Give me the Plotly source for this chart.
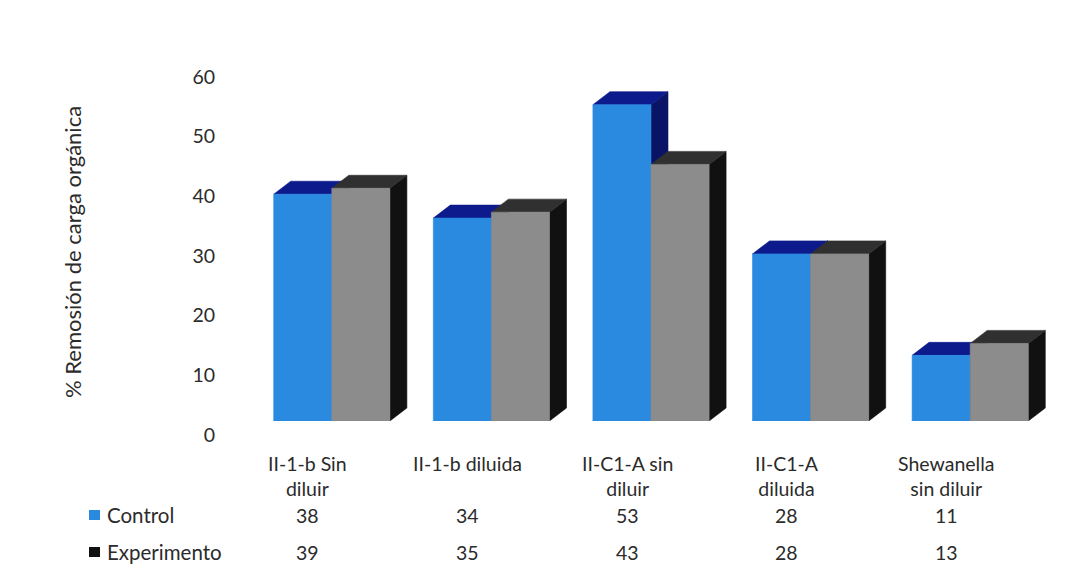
import plotly.graph_objects as go

# ---- data ----
categories = ["II-1-b Sin<br>diluir", "II-1-b diluida", "II-C1-A sin<br>diluir",
              "II-C1-A<br>diluida", "Shewanella<br>sin diluir"]
series_names = ["Control", "Experimento"]
control = [38, 34, 53, 28, 11]
experimento = [39, 35, 43, 28, 13]
y_ticks = [0, 10, 20, 30, 40, 50, 60]
y_title = "% Remosión de carga orgánica"

# ---- layout geometry (pixels) ----
W, H = 1076, 581
ML, MR, MT, MB = 252, 26, 51, 160
PW, PH = W - ML - MR, H - MT - MB
Y_MAX = 62
PLOT_BOTTOM = H - MB

def px_x(p):
    return (p - ML) / PW

def px_y(p):
    return (PLOT_BOTTOM - p) / PH

# 3-D box styling (in axis units)
BAR_W = 0.364                      # width of one front face
DEPTH_X = 17 / (PW / 5.0)          # horizontal depth offset
DEPTH_Y = 13 / (PH / Y_MAX)        # vertical depth offset
TABLE_SHIFT = -0.15                # table columns sit left of the boxes

FONT = "Lato, 'Open Sans', sans-serif"
TXT = "#2b2b2b"
FS = 19.5

styles = {
    "Control": dict(front="#2A8AE0", top="#0C1A8C", side="#0A1466"),
    "Experimento": dict(front="#8C8C8C", top="#303030", side="#111111"),
}


def faces(values, offset):
    """Return polygon paths (front, top, side) for a row of 3-D boxes."""
    fx, fy, tx, ty, sx, sy = [], [], [], [], [], []
    for i, v in enumerate(values):
        x0 = i + offset
        x1 = x0 + BAR_W
        fx += [x0, x1, x1, x0, x0, None]
        fy += [0, 0, v, v, 0, None]
        tx += [x0, x1, x1 + DEPTH_X, x0 + DEPTH_X, x0, None]
        ty += [v, v, v + DEPTH_Y, v + DEPTH_Y, v, None]
        sx += [x1, x1 + DEPTH_X, x1 + DEPTH_X, x1, x1, None]
        sy += [0, DEPTH_Y, v + DEPTH_Y, v, 0, None]
    return (fx, fy), (tx, ty), (sx, sy)


fig = go.Figure()

for name, values, offset in [("Control", control, -BAR_W),
                             ("Experimento", experimento, 0.0)]:
    front, top, side = faces(values, offset)
    st = styles[name]
    for (xs, ys), col in [(side, st["side"]), (top, st["top"]), (front, st["front"])]:
        fig.add_trace(go.Scatter(
            x=xs, y=ys, mode="lines", fill="toself", fillcolor=col,
            line=dict(color=col, width=0.6), hoverinfo="skip",
            showlegend=False, name=name))

annotations = []

# axis title
annotations.append(dict(
    text=y_title, xref="paper", yref="paper", x=px_x(72), y=px_y(252),
    textangle=-90, showarrow=False, font=dict(family=FONT, size=22, color=TXT),
    xanchor="center", yanchor="middle"))

# data table under the chart: category headers and values
for i, cat in enumerate(categories):
    annotations.append(dict(
        text=cat, xref="x", yref="paper", x=i + TABLE_SHIFT, y=px_y(450),
        showarrow=False, xanchor="center", yanchor="top", align="center",
        font=dict(family=FONT, size=FS, color=TXT)))
    for vals, row_y in [(control, 515), (experimento, 552)]:
        annotations.append(dict(
            text=str(vals[i]), xref="x", yref="paper", x=i + TABLE_SHIFT,
            y=px_y(row_y), showarrow=False, xanchor="center", yanchor="middle",
            font=dict(family=FONT, size=FS, color=TXT)))

shapes = []
for name, row_y in zip(series_names, [515, 552]):
    annotations.append(dict(
        text=name, xref="paper", yref="paper", x=px_x(105), y=px_y(row_y),
        showarrow=False, xanchor="left", yanchor="middle",
        font=dict(family=FONT, size=20.5, color=TXT)))
    key_col = styles[name]["front"] if name == "Control" else "#111111"
    shapes.append(dict(
        type="rect", xref="paper", yref="paper",
        x0=px_x(89), x1=px_x(100), y0=px_y(row_y + 5), y1=px_y(row_y - 5),
        fillcolor=key_col, line=dict(width=0)))

fig.update_layout(
    width=W, height=H,
    margin=dict(l=ML, r=MR, t=MT, b=MB),
    paper_bgcolor="white", plot_bgcolor="white",
    xaxis=dict(range=[-0.5, 4.5], showgrid=False, zeroline=False,
               showticklabels=False, showline=False, fixedrange=True),
    yaxis=dict(range=[0, Y_MAX], tickvals=y_ticks, showgrid=False,
               zeroline=False, showline=False, ticks="",
               ticklabelshift=14, ticklabelstandoff=36,
               tickfont=dict(family=FONT, size=FS, color=TXT)),
    annotations=annotations, shapes=shapes,
)

fig.write_html("out.html")
